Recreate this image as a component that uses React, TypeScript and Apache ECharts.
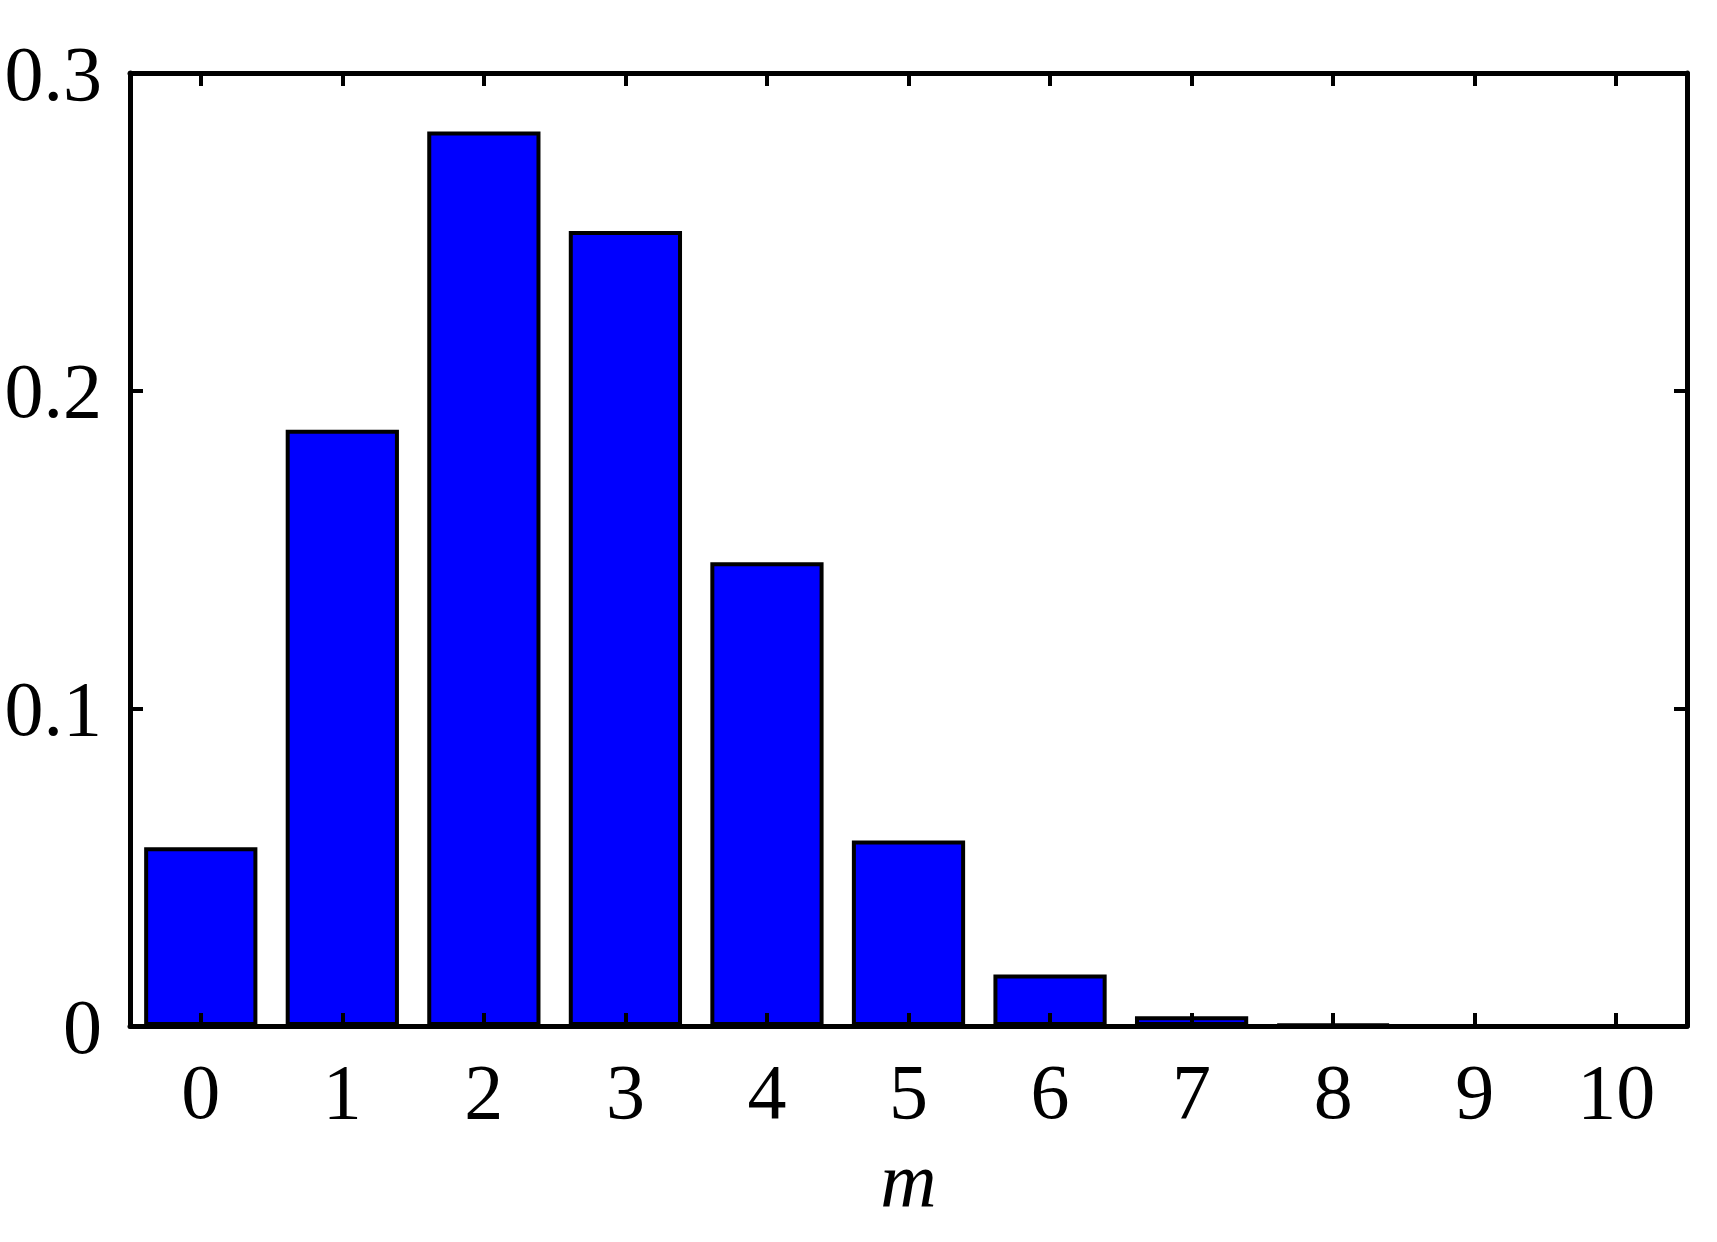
import { useRef, useEffect } from "react";
import * as echarts from "echarts";

const CATEGORIES = ["0", "1", "2", "3", "4", "5", "6", "7", "8", "9", "10"];
const PROBS = [0.0563, 0.1877, 0.2816, 0.2503, 0.146, 0.0584, 0.0162, 0.0031, 0.0004, 0.00003, 0.000001];
const Y_MIN = 0;
const Y_MAX = 0.3;
const Y_STEP = 0.1;

const FONT = "'Liberation Serif', 'Times New Roman', Times, serif";
const FONT_SIZE = 78;
const AXIS_W = 5;
const BAR_BORDER = 4;

export default function App() {
  const ref = useRef<HTMLDivElement>(null);

  useEffect(() => {
    if (!ref.current) return;
    const chart = echarts.init(ref.current, null, { renderer: "svg" });

    // box frame: bottom/left carry labels, top/right mirror the ticks
    const line = { show: true, onZero: false, lineStyle: { color: "#000", width: AXIS_W } };
    const tick = { show: true, inside: true, length: 13, lineStyle: { color: "#000", width: 4 } };

    chart.setOption({
      animation: false,
      backgroundColor: "#fff",
      grid: { left: 130, right: 30, top: 73, bottom: 216 },
      xAxis: [
        {
          type: "category",
          data: CATEGORIES,
          position: "bottom",
          z: 5,
          axisLine: line,
          axisTick: { ...tick, alignWithLabel: true },
          axisLabel: { color: "#000", fontFamily: FONT, fontSize: FONT_SIZE, margin: 26 },
          name: "m",
          nameLocation: "middle",
          nameGap: 115,
          nameTextStyle: { color: "#000", fontFamily: FONT, fontSize: FONT_SIZE, fontStyle: "italic" },
        },
        {
          type: "category",
          data: CATEGORIES,
          position: "top",
          z: 5,
          axisLine: line,
          axisTick: { ...tick, alignWithLabel: true },
          axisLabel: { show: false },
        },
      ],
      yAxis: [
        {
          type: "value",
          min: Y_MIN,
          max: Y_MAX,
          interval: Y_STEP,
          position: "left",
          z: 5,
          axisLine: line,
          axisTick: tick,
          splitLine: { show: false },
          axisLabel: { color: "#000", fontFamily: FONT, fontSize: FONT_SIZE, margin: 28 },
        },
        {
          type: "value",
          min: Y_MIN,
          max: Y_MAX,
          interval: Y_STEP,
          position: "right",
          z: 5,
          axisLine: line,
          axisTick: tick,
          splitLine: { show: false },
          axisLabel: { show: false },
        },
      ],
      series: [
        {
          type: "bar",
          data: PROBS,
          barWidth: "80%",
          itemStyle: { color: "#0000ff", borderColor: "#000", borderWidth: BAR_BORDER },
        },
      ],
    });

    return () => chart.dispose();
  }, []);

  return (
    <div
      ref={ref}
      style={{ position: "fixed", left: 0, top: 0, width: 1717, height: 1242, background: "#fff" }}
    />
  );
}
